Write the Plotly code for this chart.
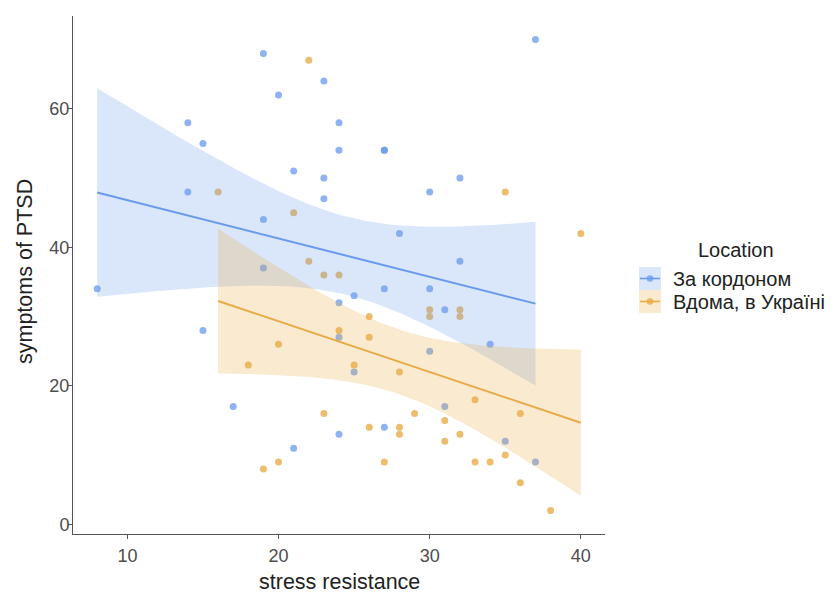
import numpy as np
import plotly.graph_objects as go

# ---- data ----
abroad_x = [8, 14, 14, 15, 15, 17, 19, 19, 19, 20, 21, 21, 23, 23, 23, 24, 24, 24, 24, 24,
            25, 25, 27, 27, 27, 27, 28, 30, 30, 30, 31, 31, 32, 32, 34, 35, 37, 37]
abroad_y = [34, 58, 48, 55, 28, 17, 68, 44, 37, 62, 51, 11, 64, 50, 47, 58, 54, 32, 27, 13,
            33, 22, 54, 54, 34, 14, 42, 48, 34, 25, 31, 17, 50, 38, 26, 12, 70, 9]

home_x = [16, 18, 19, 20, 20, 21, 22, 22, 23, 23, 24, 24, 25, 26, 26, 26, 27, 28, 28, 28,
          29, 30, 30, 31, 31, 32, 32, 32, 33, 33, 34, 35, 35, 36, 36, 38, 40]
home_y = [48, 23, 8, 26, 9, 45, 67, 38, 36, 16, 36, 28, 23, 30, 27, 14, 9, 22, 14, 13,
          16, 31, 30, 15, 12, 31, 30, 13, 18, 9, 9, 48, 10, 16, 6, 2, 42]

series_names = ["За кордоном", "Вдома, в Україні"]
legend_title = "Location"
x_title = "stress resistance"
y_title = "symptoms of PTSD"
x_ticks = [10, 20, 30, 40]
y_ticks = [0, 20, 40, 60]

BLUE = "#6A9AEB"
ORANGE = "#E8AB45"
BLUE_PT = "rgba(106,154,235,0.75)"
ORANGE_PT = "rgba(232,171,69,0.78)"
BLUE_RIB = "rgba(106,154,235,0.25)"
ORANGE_RIB = "rgba(232,171,69,0.25)"

W, H = 835, 595
L, R, T, B = 73, 230, 16, 61
PW, PH = W - L - R, H - T - B


def px_x(p):
    return (p - L) / PW


def px_y(p):
    return (H - B - p) / PH


def t975(df):
    z = 1.959964
    return z + (z**3 + z) / (4 * df) + (5 * z**5 + 16 * z**3 + 3 * z) / (96 * df**2)


def lm_fit(x, y, n_grid=80):
    x = np.asarray(x, float)
    y = np.asarray(y, float)
    n = len(x)
    b, a = np.polyfit(x, y, 1)
    resid = y - (a + b * x)
    s = np.sqrt(np.sum(resid**2) / (n - 2))
    xbar = x.mean()
    sxx = np.sum((x - xbar) ** 2)
    g = np.linspace(x.min(), x.max(), n_grid)
    fit = a + b * g
    se = s * np.sqrt(1.0 / n + (g - xbar) ** 2 / sxx)
    t = t975(n - 2)
    return g, fit, fit - t * se, fit + t * se


fig = go.Figure()

groups = [
    (abroad_x, abroad_y, series_names[0], BLUE, BLUE_PT, BLUE_RIB),
    (home_x, home_y, series_names[1], ORANGE, ORANGE_PT, ORANGE_RIB),
]

# points
for gx, gy, name, col, pt, rib in groups:
    fig.add_trace(go.Scatter(x=gx, y=gy, mode="markers", name=name, showlegend=False,
                             marker=dict(size=7, color=pt, line=dict(width=0))))

# ribbons + lines
for gx, gy, name, col, pt, rib in groups:
    g, fit, lo, hi = lm_fit(gx, gy)
    fig.add_trace(go.Scatter(x=np.concatenate([g, g[::-1]]), y=np.concatenate([hi, lo[::-1]]),
                             mode="lines", fill="toself", fillcolor=rib,
                             line=dict(width=0), showlegend=False, hoverinfo="skip"))
    fig.add_trace(go.Scatter(x=g, y=fit, mode="lines", line=dict(color=col, width=2),
                             showlegend=False))

# manual legend (ggplot-style keys)
shapes = []
annotations = []
key_x0, key_x1 = 639, 661
key_h = 23
first_top = 267
for i, (gx, gy, name, col, pt, rib) in enumerate(groups):
    top = first_top + i * key_h
    cy = top + key_h / 2
    shapes.append(dict(type="rect", xref="paper", yref="paper",
                       x0=px_x(key_x0), x1=px_x(key_x1), y0=px_y(top + key_h), y1=px_y(top),
                       fillcolor=rib, line=dict(width=0), layer="above"))
    shapes.append(dict(type="line", xref="paper", yref="paper",
                       x0=px_x(key_x0 + 1), x1=px_x(key_x1 - 1), y0=px_y(cy), y1=px_y(cy),
                       line=dict(color=col, width=1.6), layer="above"))
    cx = (key_x0 + key_x1) / 2
    shapes.append(dict(type="circle", xref="paper", yref="paper",
                       x0=px_x(cx - 3.3), x1=px_x(cx + 3.3), y0=px_y(cy + 3.3), y1=px_y(cy - 3.3),
                       fillcolor=pt, line=dict(width=0), layer="above"))
    annotations.append(dict(text=name, xref="paper", yref="paper", x=px_x(671), y=px_y(cy),
                            xanchor="left", yanchor="middle", showarrow=False,
                            font=dict(size=20, color="#222222")))

annotations.append(dict(text=legend_title, xref="paper", yref="paper", x=px_x(736), y=px_y(250),
                        xanchor="center", yanchor="middle", showarrow=False,
                        font=dict(size=20, color="#222222")))
annotations.append(dict(text=x_title, xref="paper", yref="paper", x=px_x(339), y=px_y(595),
                        xanchor="center", yanchor="bottom", showarrow=False, borderpad=0,
                        font=dict(size=21.5, color="#222222")))
annotations.append(dict(text=y_title, xref="paper", yref="paper", x=px_x(25), y=px_y(272),
                        xanchor="center", yanchor="middle", showarrow=False, textangle=-90,
                        font=dict(size=21.5, color="#222222")))

axis_common = dict(showgrid=False, zeroline=False, showline=True, linecolor="#555555",
                   linewidth=1, ticks="outside", ticklen=4, tickcolor="#555555",
                   tickfont=dict(size=18, color="#4D4D4D"), mirror=False)

fig.update_layout(
    width=W, height=H,
    margin=dict(l=L, r=R, t=T, b=B),
    plot_bgcolor="white", paper_bgcolor="white",
    font=dict(family="Liberation Sans, Arial, sans-serif", color="#333333"),
    xaxis=dict(range=[6.4, 41.6], tickvals=x_ticks, ticklabelstandoff=1, **axis_common),
    yaxis=dict(range=[-1.4, 73.4], tickvals=y_ticks, ticklabelstandoff=-5, **axis_common),
    showlegend=False,
    shapes=shapes,
    annotations=annotations,
)

fig.write_html("out.html")
